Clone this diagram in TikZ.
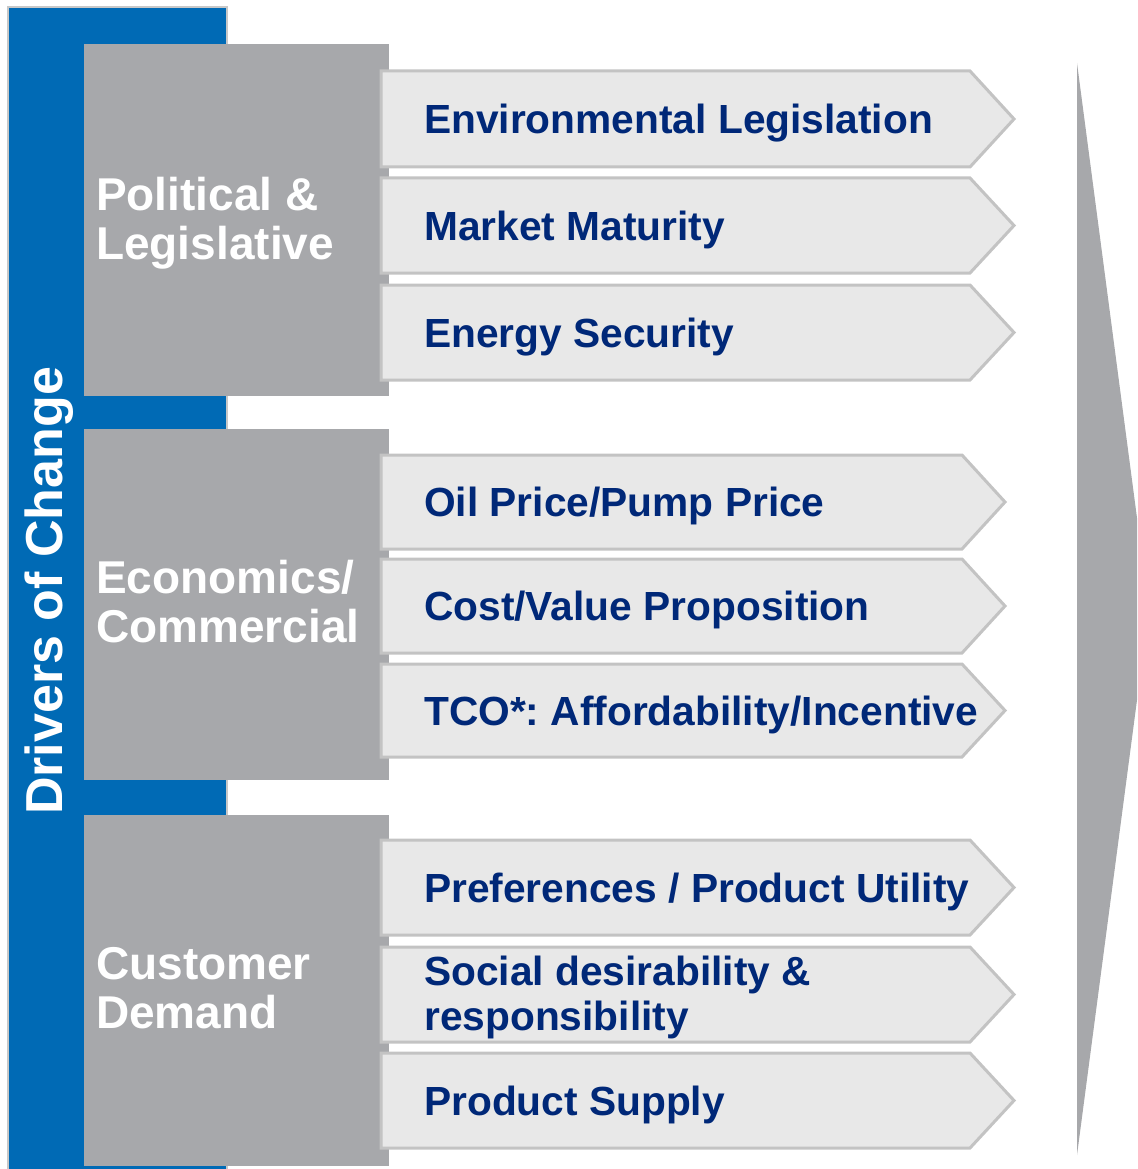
\documentclass[tikz,border=0pt]{standalone}
\usepackage{fontspec}
\setmainfont{Liberation Sans}
\usetikzlibrary{calc}
\frenchspacing

\definecolor{barblue}{RGB}{0,106,181}
\definecolor{catgray}{RGB}{167,168,171}
\definecolor{itemfill}{RGB}{232,232,232}
\definecolor{itemline}{RGB}{195,195,195}
\definecolor{navy}{RGB}{0,40,120}
\definecolor{baredge}{RGB}{200,200,200}

% one chevron row: name, top, bottom, end of straight part, tip, label
\newcommand\itemrow[6]{%
  \pgfmathsetmacro\midy{(#2+#3)/2}%
  \pgfmathsetmacro\basey{\midy+14.5}%
  \draw[itembox] (381,#2) -- (#4,#2) -- (#5,\midy) -- (#4,#3) -- (381,#3) -- cycle;
  \node[itemtext] (#1) at (424,\basey) {#6};
}

\begin{document}
\begin{tikzpicture}[x=1pt,y=-1pt,
  catbox/.style={fill=catgray, draw=none, inner sep=0pt},
  cattext/.style={text=white, font=\bfseries\fontsize{46}{48}\selectfont, anchor=base west, inner sep=0pt},
  itembox/.style={fill=itemfill, draw=itemline, line width=3pt, line join=miter},
  itemtext/.style={text=navy, font=\bfseries\fontsize{40.7}{45}\selectfont, anchor=base west, inner sep=0pt}]
\useasboundingbox (0,0) rectangle (1137,1169);
\clip (0,0) rectangle (1137,1169);

% large arrow on the right
\fill[catgray] (1077,63) -- (1149,609) -- (1077,1155) -- cycle;

% blue band with the vertical title
\draw[baredge, line width=2pt, fill=barblue] (8,7) rectangle (227,1185);
\node[rotate=90, anchor=base west, inner sep=0pt, text=white,
      font=\bfseries\fontsize{52}{52}\selectfont] (drivers) at (62,815) {Drivers of Change};

% category blocks
\node[catbox, minimum width=305pt, minimum height=352pt] (pol) at (236.5,220) {};
\node[catbox, minimum width=305pt, minimum height=351pt] (eco) at (236.5,604.5) {};
\node[catbox, minimum width=305pt, minimum height=351pt] (cus) at (236.5,990.5) {};

\node[cattext] (pol1) at (96,211) {Political \&};
\node[cattext] (pol2) at (96,259) {Legislative};
\node[cattext] (eco1) at (96,593) {Economics/};
\node[cattext] (eco2) at (96,642) {Commercial};
\node[cattext] (cus1) at (96,979) {Customer};
\node[cattext] (cus2) at (96,1028) {Demand};

% chevrons
\itemrow{env}{71}{167}{970}{1014}{Environmental Legislation}
\itemrow{mkt}{178}{273}{970}{1014}{Market Maturity}
\itemrow{nrg}{285}{380}{970}{1014}{Energy Security}

\itemrow{oil}{455}{549}{962}{1005}{Oil Price/Pump Price}
\itemrow{cst}{559}{653}{962}{1005}{Cost/Value Proposition}
\itemrow{tco}{664}{757}{962}{1005}{TCO*: Affordability/Incentive}

\itemrow{prf}{840}{935}{970}{1014}{Preferences / Product Utility}
\itemrow{soc}{947}{1042}{970}{1014}{}
\node[itemtext] (soc1) at (424,985) {Social desirability \&};
\node[itemtext] (soc2) at (424,1030) {responsibility};
\itemrow{sup}{1053}{1148}{970}{1014}{Product Supply}
\end{tikzpicture}
\end{document}
